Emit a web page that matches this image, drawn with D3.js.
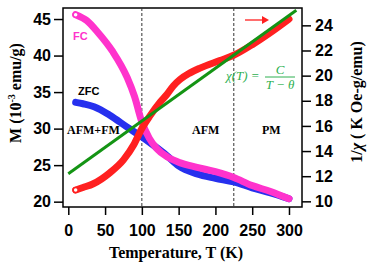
<!DOCTYPE html>
<html>
<head>
<meta charset="utf-8">
<script src="https://cdn.jsdelivr.net/npm/d3@7"></script>
<style>
  body { margin: 0; background: #fff; }
  svg { display: block; }
</style>
</head>
<body>
<div class="visHolder"></div>
<script>
// values
var fcT   = [10, 25, 40, 60, 80, 90, 100, 110, 120, 135, 150, 175, 200, 225, 250, 275, 300];
var fcM   = [45.6, 44.8, 43.2, 40.6, 37.0, 34.4, 30.9, 28.7, 27.3, 26.1, 25.4, 24.7, 24.1, 23.3, 22.2, 21.4, 20.4];
var zfcT  = [10, 20, 35, 57, 80, 98, 116, 134, 150, 175, 200, 225, 250, 275, 300];
var zfcM  = [33.6, 33.4, 33.0, 31.8, 30.2, 29.0, 27.7, 26.3, 24.9, 23.8, 23.2, 22.7, 21.9, 21.2, 20.4];
var invT  = [10, 20, 34, 57, 75, 89, 100, 111, 125, 134, 143, 152, 165, 179, 206, 224, 251, 279, 300];
var invX  = [10.9, 11.1, 11.4, 12.3, 13.3, 14.5, 15.8, 16.8, 17.9, 18.5, 19.2, 19.7, 20.2, 20.6, 21.2, 21.6, 22.5, 23.6, 24.5];
var fitT  = [0, 310];
var fitX  = [12.2, 25.2];
var xTicks = [0, 50, 100, 150, 200, 250, 300];
var yLeftTicks = [20, 25, 30, 35, 40, 45];
var yRightTicks = [10, 12, 14, 16, 18, 20, 22, 24];
var regionLines = [100, 225];

var margin = { top: 8, right: 72, bottom: 63, left: 63 },
    width = 374 - margin.left - margin.right,
    height = 270 - margin.top - margin.bottom;

var svg = d3.select(".visHolder")
    .append("svg")
    .attr("width", 374)
    .attr("height", 270)
    .append("g")
    .attr("transform", "translate(" + margin.left + "," + margin.top + ")");

var x = d3.scaleLinear().domain([-7.2, 317.7]).range([0, width]);
var yL = d3.scaleLinear().domain([19.27, 46.51]).range([height, 0]);
var yR = d3.scaleLinear().domain([9.55, 25.38]).range([height, 0]);

var tickFont = "Liberation Sans, Arial, sans-serif";
var serif = "Liberation Serif, Times New Roman, serif";

// axes
var ax = svg.append("g")
    .attr("transform", "translate(0," + height + ")")
    .call(d3.axisBottom(x).tickValues(xTicks).tickSize(8).tickPadding(10));
var ayl = svg.append("g")
    .call(d3.axisLeft(yL).tickValues(yLeftTicks).tickSize(9).tickPadding(3));
var ayr = svg.append("g")
    .attr("transform", "translate(" + width + ",0)")
    .call(d3.axisRight(yR).tickValues(yRightTicks).tickSize(9).tickPadding(4));

[ax, ayl, ayr].forEach(function(a) {
    a.select(".domain").remove();
    a.selectAll("line").attr("stroke", "#000").attr("stroke-width", 1.5);
    a.selectAll("text")
        .style("font-family", tickFont)
        .style("font-weight", "bold")
        .style("font-size", "16px")
        .attr("fill", "#000");
});

// frame
svg.append("rect")
    .attr("width", width).attr("height", height)
    .attr("fill", "none").attr("stroke", "#000").attr("stroke-width", 1.5);

// region separators
svg.selectAll(".sep")
    .data(regionLines)
    .enter().append("line")
    .attr("x1", d => x(d)).attr("x2", d => x(d))
    .attr("y1", 0).attr("y2", height)
    .attr("stroke", "#333").attr("stroke-width", 1)
    .attr("stroke-dasharray", "3,2");

function series(ts, vs) { return ts.map((t, i) => [t, vs[i]]); }

var lineL = d3.line().x(d => x(d[0])).y(d => yL(d[1])).curve(d3.curveMonotoneX);
var lineR = d3.line().x(d => x(d[0])).y(d => yR(d[1])).curve(d3.curveMonotoneX);

var zfc = series(zfcT, zfcM), fc = series(fcT, fcM), inv = series(invT, invX), fit = series(fitT, fitX);

svg.append("path").datum(zfc).attr("d", lineL)
    .attr("fill", "none").attr("stroke", "#2630ee").attr("stroke-width", 7).attr("stroke-linecap", "round");
svg.append("path").datum(fc).attr("d", lineL)
    .attr("fill", "none").attr("stroke", "#ff33cc").attr("stroke-width", 7).attr("stroke-linecap", "round");
svg.append("path").datum(inv).attr("d", lineR)
    .attr("fill", "none").attr("stroke", "#ff2020").attr("stroke-width", 7).attr("stroke-linecap", "round");
svg.append("path").datum(fit).attr("d", d3.line().x(d => x(d[0])).y(d => yR(d[1])))
    .attr("fill", "none").attr("stroke", "#149414").attr("stroke-width", 3);

// open markers at the start of FC and 1/chi
svg.append("circle").attr("cx", x(fc[0][0])).attr("cy", yL(fc[0][1])).attr("r", 2.5)
    .attr("fill", "#fff").attr("stroke", "#ff33cc").attr("stroke-width", 1.5);
svg.append("circle").attr("cx", x(inv[0][0])).attr("cy", yR(inv[0][1])).attr("r", 2.5)
    .attr("fill", "#fff").attr("stroke", "#ff2020").attr("stroke-width", 1.5);

// labels inside the plot
svg.append("text").attr("x", 10).attr("y", 32).text("FC")
    .style("font-family", tickFont).style("font-weight", "bold").style("font-size", "11px").attr("fill", "#ff33cc");
svg.append("text").attr("x", 15).attr("y", 87).text("ZFC")
    .style("font-family", tickFont).style("font-weight", "bold").style("font-size", "11px").attr("fill", "#000");
[["AFM+FM", 4], ["AFM", 129], ["PM", 199]].forEach(function(l) {
    svg.append("text").attr("x", l[1]).attr("y", 126).text(l[0])
        .style("font-family", serif).style("font-weight", "bold").style("font-size", "12px").attr("fill", "#000");
});

// formula
var fg = svg.append("g").attr("fill", "#2eb050")
    .style("font-family", serif).style("font-style", "italic").style("font-size", "13px");
fg.append("text").attr("x", 163).attr("y", 72).text("\u03c7(T) =");
fg.append("text").attr("x", 217).attr("y", 66).attr("text-anchor", "middle").text("C");
fg.append("line").attr("x1", 202).attr("x2", 232).attr("y1", 69).attr("y2", 69)
    .attr("stroke", "#2eb050").attr("stroke-width", 1);
fg.append("text").attr("x", 217).attr("y", 81).attr("text-anchor", "middle").text("T \u2212 \u03b8");

// arrow pointing to right axis
svg.append("line").attr("x1", 182).attr("x2", 200).attr("y1", 12).attr("y2", 12)
    .attr("stroke", "#ff2020").attr("stroke-width", 1.3);
svg.append("path").attr("d", "M199,8 L206,12 L199,16 Z").attr("fill", "#ff2020");

// axis titles
var root = d3.select("svg");
root.append("text")
    .attr("transform", "translate(21,93) rotate(-90)")
    .attr("text-anchor", "middle")
    .style("font-family", serif).style("font-weight", "bold").style("font-size", "16px")
    .call(function(t) {
        t.append("tspan").text("M (10");
        t.append("tspan").attr("dy", -6).style("font-size", "10px").text("-3");
        t.append("tspan").attr("dy", 6).text(" emu/g)");
    });
root.append("text")
    .attr("transform", "translate(362,102) rotate(-90)")
    .attr("text-anchor", "middle")
    .style("font-family", serif).style("font-weight", "bold").style("font-size", "16px")
    .call(function(t) {
        t.append("tspan").text("1/");
        t.append("tspan").style("font-style", "italic").text("\u03c7");
        t.append("tspan").text(" ( K Oe-g/emu)");
    });
root.append("text")
    .attr("x", 176).attr("y", 258)
    .attr("text-anchor", "middle")
    .style("font-family", serif).style("font-weight", "bold").style("font-size", "16px")
    .text("Temperature, T (K)");
</script>
</body>
</html>
